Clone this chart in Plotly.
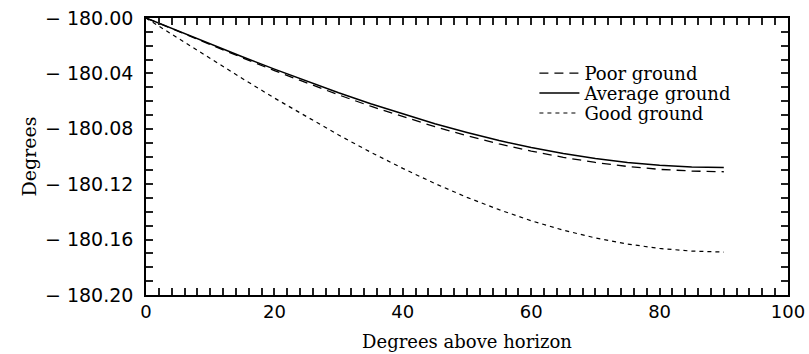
import plotly.graph_objects as go

elev = [0, 5, 10, 15, 20, 25, 30, 35, 40, 45, 50, 55, 60, 65, 70, 75, 80, 85, 90]
poor = [-180.0000, -180.0097, -180.0193, -180.0287, -180.0380, -180.0469, -180.0555,
        -180.0637, -180.0713, -180.0785, -180.0850, -180.0909, -180.0961, -180.1006,
        -180.1043, -180.1072, -180.1093, -180.1105, -180.1110]
average = [-180.0000, -180.0094, -180.0188, -180.0280, -180.0369, -180.0456, -180.0540,
           -180.0619, -180.0694, -180.0764, -180.0827, -180.0885, -180.0935, -180.0979,
           -180.1015, -180.1043, -180.1064, -180.1076, -180.1080]
good = [-180.0000, -180.0147, -180.0293, -180.0437, -180.0578, -180.0714, -180.0845,
        -180.0969, -180.1086, -180.1195, -180.1295, -180.1384, -180.1464, -180.1532,
        -180.1588, -180.1632, -180.1664, -180.1683, -180.1690]

# labelled ticks
ylabels = ["-180.00", "-180.04", "-180.08", "-180.12", "-180.16", "-180.20"]
xlabels = ["0", "20", "40", "60", "80", "100"]

# every tick mark is drawn (step 0.01 / 2); only labelled ones keep text
yalias = {}
for k in range(0, 21):
    s = "-%.2f" % (180 + k / 100)
    yalias[s.replace("-", "\u2212")] = ("\u2212 " + s[1:]) if s in ylabels else ""
xalias = {str(v): (str(v) if str(v) in xlabels else "") for v in range(0, 101, 2)}

serif = "DejaVu Serif"
leg_font = dict(family=serif, size=18, color="black")
tick_col = "#222222"

fig = go.Figure()
fig.add_trace(go.Scatter(x=elev, y=poor, mode="lines", name="Poor ground", legend="legend",
                         line=dict(color="black", width=1.3, dash="9px,6px")))
fig.add_trace(go.Scatter(x=elev, y=average, mode="lines", name="Average ground", legend="legend2",
                         line=dict(color="black", width=1.5)))
fig.add_trace(go.Scatter(x=elev, y=good, mode="lines", name="Good ground", legend="legend3",
                         line=dict(color="black", width=1.2, dash="4px,4px")))

leg_common = dict(x=0.605, xanchor="left", yanchor="middle", bgcolor="rgba(0,0,0,0)",
                  borderwidth=0, font=leg_font, itemwidth=40)
fig.update_layout(
    template="none",
    width=809, height=354,
    margin=dict(l=146, r=21, t=18, b=59),
    paper_bgcolor="white", plot_bgcolor="white",
    showlegend=True,
    legend=dict(y=0.80, **leg_common),
    legend2=dict(y=0.728, **leg_common),
    legend3=dict(y=0.656, **leg_common),
    font=dict(family=serif, color="black"),
)
fig.update_xaxes(
    range=[0, 100], tickmode="linear", tick0=0, dtick=2, labelalias=xalias,
    showgrid=False, zeroline=False, automargin=False,
    showline=True, linecolor="black", linewidth=1.5, mirror="allticks",
    ticks="inside", ticklen=7, tickcolor=tick_col, tickwidth=2,
    tickfont=dict(family="DejaVu Sans", size=18, color="black"),
    title=dict(text="Degrees above horizon", font=dict(family=serif, size=18, color="black"), standoff=14),
)
fig.update_yaxes(
    range=[-180.20, -180.00], tickmode="linear", tick0=-180.0, dtick=0.01, tickformat=".2f",
    labelalias=yalias, automargin=False,
    showgrid=False, zeroline=False,
    showline=True, linecolor="black", linewidth=1.5, mirror="allticks",
    ticks="inside", ticklen=7, tickcolor=tick_col, tickwidth=2,
    tickfont=dict(family="DejaVu Sans", size=19, color="black"),
    ticklabelstandoff=7,
    title=dict(text="Degrees", font=dict(family=serif, size=19, color="black"), standoff=3),
)

fig.write_html("out.html")
